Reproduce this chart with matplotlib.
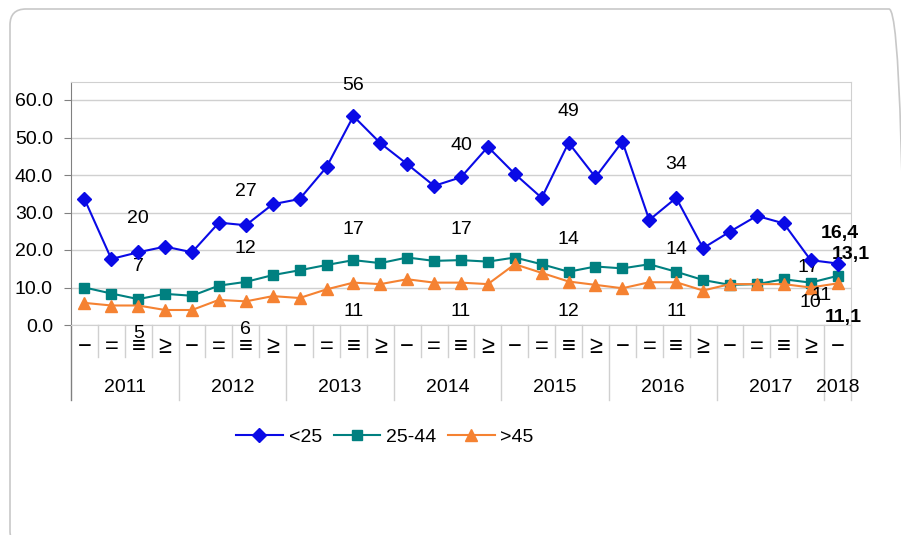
import matplotlib.pyplot as plt
import numpy as np
from matplotlib.patches import FancyBboxPatch
from matplotlib.transforms import IdentityTransform, blended_transform_factory

plt.rcParams['font.family'] = ['Liberation Sans', 'DejaVu Sans']

years = ['2011', '2012', '2013', '2014', '2015', '2016', '2017', '2018']
quarters = ['\u2212', '=', '\u2261', '\u2265']  # I II III IV as drawn in the source
n_points = 29

under25 = [33.6, 17.6, 19.4, 20.9, 19.4, 27.3, 26.6, 32.2, 33.6, 42.1, 55.7, 48.5,
           42.9, 37.1, 39.4, 47.5, 40.3, 33.9, 48.6, 39.4, 48.9, 28.0, 33.9, 20.5,
           24.9, 29.1, 27.1, 17.3, 16.4]
age25_44 = [10.0, 8.4, 6.9, 8.3, 7.8, 10.5, 11.5, 13.3, 14.6, 16.0, 17.3, 16.5,
            18.0, 17.1, 17.3, 16.9, 18.0, 16.2, 14.2, 15.6, 15.1, 16.2, 14.2, 12.0,
            10.7, 10.9, 12.2, 11.3, 13.1]
over45 = [5.9, 5.2, 5.2, 4.0, 4.0, 6.7, 6.3, 7.7, 7.2, 9.5, 11.3, 10.9,
          12.2, 11.3, 11.3, 10.9, 16.2, 13.9, 11.6, 10.7, 9.8, 11.4, 11.4, 9.2,
          10.9, 10.9, 10.9, 10.0, 11.1]

# yearly average labels (as printed on the chart)
avg_under25 = ['20', '27', '56', '40', '49', '34', '17']
avg_25_44 = ['7', '12', '17', '17', '14', '14', '11']
avg_over45 = ['5', '6', '11', '11', '12', '11', '10']
last_labels = ['16,4', '13,1', '11,1']

FS = 14

fig = plt.figure(figsize=(9.01, 5.35), dpi=100)
ax = fig.add_axes([71 / 901, 1 - 325 / 535, 780 / 901, 243 / 535])

border = FancyBboxPatch((10, -12), 895, 538, boxstyle='round,pad=0,rounding_size=16',
                        transform=IdentityTransform(), facecolor='none',
                        edgecolor='#c8c8c8', linewidth=1.2)
fig.patches.append(border)

x = np.arange(n_points)
ax.plot(x, under25, color='#0a0ae6', lw=1.5, marker='D', ms=7, label='<25', zorder=4)
ax.plot(x, age25_44, color='#008080', lw=1.5, marker='s', ms=7, label='25-44', zorder=3)
ax.plot(x, over45, color='#f58232', lw=1.5, marker='^', ms=8.5, label='>45', zorder=3)

ax.set_xlim(-0.5, n_points - 0.5)
ax.set_ylim(0, 64.8)
ax.set_yticks(np.arange(0, 61, 10))
ax.set_yticklabels([f'{v:.1f}' for v in range(0, 61, 10)], fontsize=FS)
ax.yaxis.grid(True, color='#d0d0d0', lw=1)
ax.set_axisbelow(True)
ax.set_xticks([])
ax.tick_params(axis='y', length=5, color='#808080', pad=8)
for s in ['top', 'right', 'bottom']:
    ax.spines[s].set_color('#d0d0d0')
ax.spines['left'].set_color('#808080')

# category axis: quarters and years
tr = blended_transform_factory(ax.transData, ax.transAxes)
for i in range(n_points):
    ax.text(i, -0.09, quarters[i % 4], transform=tr, ha='center', va='center',
            fontsize=17)
for k in range(1, n_points + 1):
    bottom = -0.309 if k % 4 == 0 or k == n_points else -0.132
    ax.plot([k - 0.5, k - 0.5], [0, bottom], transform=tr, color='#d0d0d0',
            lw=1, clip_on=False)
ax.plot([-0.5, -0.5], [0, -0.309], transform=tr, color='#808080', lw=1, clip_on=False)
for j, yr in enumerate(years):
    if j < 7:
        cx = 4 * j + 1.5
    else:
        cx = 28
    ax.text(cx, -0.258, yr, transform=tr, ha='center', va='center', fontsize=FS)

# yearly average labels
avg_x = [2, 6, 10, 14, 18, 22]
top_y = [28.3, 35.7, 64.0, 48.0, 57.0, 42.7]
mid_y = [15.5, 20.3, 25.6, 25.6, 22.7, 20.0]
low_y = [-2.4, -1.3, 3.5, 3.5, 3.7, 3.5]
for i, xi in enumerate(avg_x):
    ax.text(xi, top_y[i], avg_under25[i], ha='center', va='center', fontsize=FS, clip_on=False)
    ax.text(xi, mid_y[i], avg_25_44[i], ha='center', va='center', fontsize=FS, clip_on=False)
    ax.text(xi, low_y[i], avg_over45[i], ha='center', va='center', fontsize=FS, clip_on=False)
ax.text(26.9, 15.2, avg_under25[6], ha='center', va='center', fontsize=FS, clip_on=False)
ax.text(27.4, 8.0, avg_25_44[6], ha='center', va='center', fontsize=FS, clip_on=False)
ax.text(27.0, 5.9, avg_over45[6], ha='center', va='center', fontsize=FS, clip_on=False)
ax.text(28.1, 24.5, last_labels[0], ha='center', va='center', fontsize=FS,
        fontweight='bold', clip_on=False)
ax.text(28.5, 18.9, last_labels[1], ha='center', va='center', fontsize=FS,
        fontweight='bold', clip_on=False)
ax.text(28.2, 1.9, last_labels[2], ha='center', va='center', fontsize=FS,
        fontweight='bold', clip_on=False)

ax.legend(loc='center', bbox_to_anchor=(385 / 901, 1 - 437 / 535),
          bbox_transform=fig.transFigure, ncol=3, frameon=False, fontsize=FS,
          handlelength=2.4, handletextpad=0.3, columnspacing=0.6)

fig.savefig('out.png', dpi=100)
